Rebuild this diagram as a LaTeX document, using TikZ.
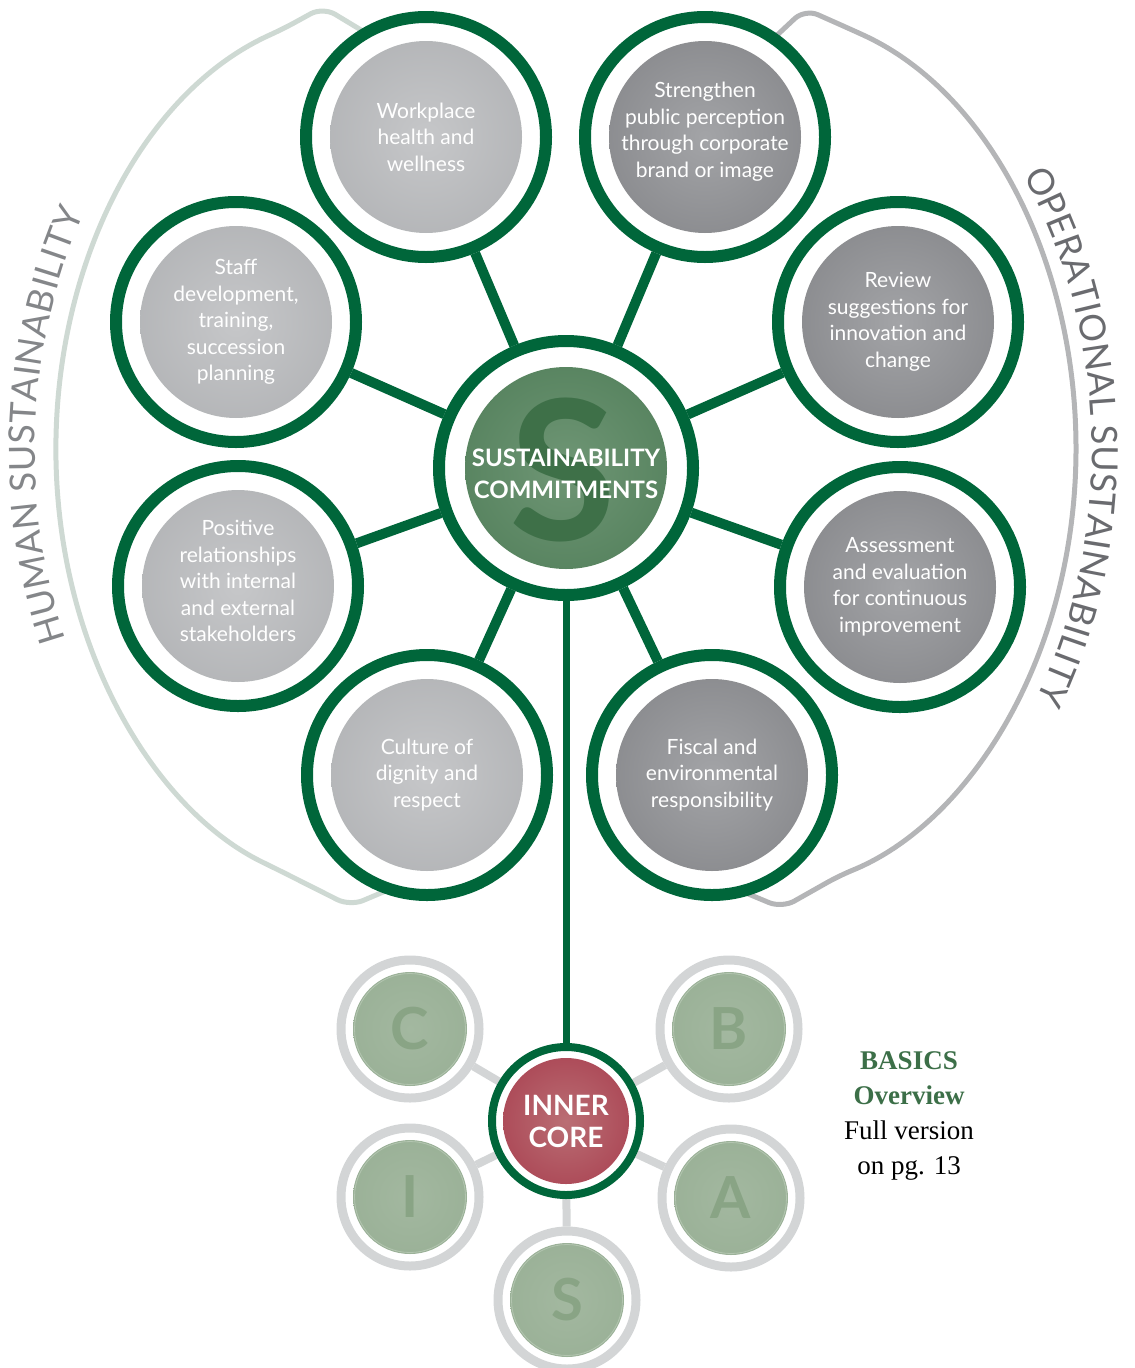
\documentclass[tikz,border=0pt]{standalone}
\usepackage{fontspec}
\setmainfont{Lato}
\newfontfamily\notefont{Liberation Serif}
\usetikzlibrary{decorations.text}

\definecolor{ringgreen}{HTML}{00663A}
\definecolor{humanarc}{HTML}{CED9D3}
\definecolor{operarc}{HTML}{B4B5B7}
\definecolor{humantext}{HTML}{848689}
\definecolor{opertext}{HTML}{6A6B6F}
\definecolor{lightin}{HTML}{C6C7C9}
\definecolor{lightout}{HTML}{9C9EA1}
\definecolor{darkin}{HTML}{A3A4A7}
\definecolor{darkout}{HTML}{6B6C70}
\definecolor{hubin}{HTML}{6F9675}
\definecolor{hubout}{HTML}{386B43}
\definecolor{hubS}{HTML}{3E7048}
\definecolor{corein}{HTML}{BA6E74}
\definecolor{coreout}{HTML}{9C1F36}
\definecolor{sagein}{HTML}{A3B8A0}
\definecolor{sageout}{HTML}{8FA88C}
\definecolor{sageletter}{HTML}{89A485}
\definecolor{sagerim}{HTML}{B3C5B0}
\definecolor{basicsgrey}{HTML}{D3D5D6}
\definecolor{notegreen}{HTML}{3C6F48}

\pgfdeclareradialshading{lightball}{\pgfpoint{0bp}{0bp}}{color(0bp)=(lightin); color(50bp)=(lightout)}
\pgfdeclareradialshading{darkball}{\pgfpoint{0bp}{0bp}}{color(0bp)=(darkin); color(50bp)=(darkout)}
\pgfdeclareradialshading{hubball}{\pgfpoint{0bp}{0bp}}{color(0bp)=(hubin); color(50bp)=(hubout)}
\pgfdeclareradialshading{redball}{\pgfpoint{0bp}{0bp}}{color(0bp)=(corein); color(50bp)=(coreout)}
\pgfdeclareradialshading{sageball}{\pgfpoint{0bp}{0bp}}{color(0bp)=(sagein); color(50bp)=(sageout)}

\pgfdeclarelayer{background}
\pgfsetlayers{background,main}

\newcommand\arcfont{\fontsize{36}{36}\selectfont}

\tikzset{
  sat/.style={circle, draw=ringgreen, line width=12pt, minimum size=240pt, inner sep=0pt,
    align=center, text=white, font=\fontsize{21}{26.5}\selectfont,
    path picture={\shade[shading=#1] (path picture bounding box.center) circle (96pt);}},
  hub/.style={circle, draw=ringgreen, line width=12pt, minimum size=254pt, inner sep=0pt,
    path picture={\shade[shading=hubball] (path picture bounding box.center) circle (101pt);}},
  bigS/.style={text=hubS, font=\fontsize{195}{195}\selectfont\bfseries},
  hubtext/.style={align=center, text=white, font=\fontsize{24}{32}\selectfont\bfseries},
  coreball/.style={circle, draw=ringgreen, line width=8pt, minimum size=148pt, inner sep=0pt,
    align=center, text=white, font=\fontsize{28}{32}\selectfont\bfseries,
    path picture={\shade[shading=redball] (path picture bounding box.center) circle (63pt);}},
  letterball/.style={circle, draw=basicsgrey, line width=9pt, minimum size=138pt, inner sep=0pt,
    text=sageletter, font=\fontsize{58}{58}\selectfont\bfseries,
    path picture={\shade[shading=sageball] (path picture bounding box.center) circle (57pt);
      \draw[sagerim, line width=0.8pt] (path picture bounding box.center) circle (55.5pt);}},
  note/.style={align=center, font=\notefont\fontsize{27}{35}\selectfont},
  spoke/.style={draw=ringgreen, line width=10pt},
  stem/.style={draw=ringgreen, line width=7pt},
  basicslink/.style={draw=basicsgrey, line width=8pt},
  humanline/.style={draw=humanarc, line width=5pt, rounded corners=14pt},
  operline/.style={draw=operarc, line width=5pt, rounded corners=14pt},
}

\begin{document}
\begin{tikzpicture}[x=1pt, y=-1pt]
  \useasboundingbox (0,0) rectangle (1135,1368);

  % commitments around the hub
  \node[sat=lightball] (wp) at (426,137) {Workplace\\health and\\wellness};
  \node[sat=darkball] (sp) at (705,137) {Strengthen\\public perception\\through corporate\\brand or image\\[-12.5pt]};
  \node[sat=lightball] (sd) at (236,322) {Staff\\development,\\training,\\succession\\planning};
  \node[sat=darkball] (rv) at (898,322) {Review\\suggestions for\\innovation and\\change};
  \node[sat=lightball] (pr) at (238,586) {Positive\\relationships\\with internal\\and external\\stakeholders\\[-16.5pt]};
  \node[sat=darkball] (ae) at (900,587) {Assessment\\and evaluation\\for continuous\\improvement};
  \node[sat=lightball] (cd) at (427,775) {Culture of\\dignity and\\respect};
  \node[sat=darkball] (fe) at (712,775) {Fiscal and\\environmental\\responsibility};

  % hub
  \node[hub] (hub) at (566,468) {};
  \node[bigS] (hubs) at (563,470) {S};
  \node[hubtext] (hubt) at (566,474) {SUSTAINABILITY\\COMMITMENTS};

  % inner core and the BASICS
  \node[coreball] (core) at (566,1121) {INNER\\CORE};
  \node[letterball] (lc) at (410,1029) {C};
  \node[letterball] (lb) at (729,1029) {B};
  \node[letterball] (li) at (410,1197) {I};
  \node[letterball] (la) at (731,1198) {A};
  \node[letterball] (ls) at (567,1300) {S};
  \node[note] (note) at (909,1116) {\textbf{\color{notegreen}BASICS}\\\textbf{\color{notegreen}Overview}\\Full version\\on pg. 13};

  % side labels
  \path[decorate, decoration={text along path, text={|\arcfont|HUMAN SUSTAINABILITY},
    text color=humantext, text align={fit to path}}]
    (65.7,639.5) arc[start angle=204, end angle=149.4, x radius=355pt, y radius=466pt];
  \path[decorate, decoration={text along path, text={|\arcfont|OPERATIONAL SUSTAINABILITY},
    text color=opertext, text align={fit to path}}]
    (1023,175.2) arc[start angle=36.6, end angle=-32.8, x radius=350pt, y radius=461pt];

  \begin{pgfonlayer}{background}
    % side brackets
    \draw[humanline] (366,33) -- (323,7) -- (283,29)
      arc[start angle=108.7, end angle=250, x radius=334pt, y radius=445pt] -- (350,906) -- (388,890);
    \draw[operline] (774,38) -- (805,9) -- (850,29)
      arc[start angle=71.1, end angle=-73, x radius=334pt, y radius=445pt] -- (782,908) -- (746,893);
    % spokes
    \draw[spoke] (hub) -- (wp);
    \draw[spoke] (hub) -- (sp);
    \draw[spoke] (hub) -- (sd);
    \draw[spoke] (hub) -- (rv);
    \draw[spoke] (hub) -- (pr);
    \draw[spoke] (hub) -- (ae);
    \draw[spoke] (hub) -- (cd);
    \draw[spoke] (hub) -- (fe);
    \draw[stem] (hub) -- (core);
    % basics links
    \draw[basicslink] (core) -- (lc);
    \draw[basicslink] (core) -- (lb);
    \draw[basicslink] (core) -- (li);
    \draw[basicslink] (core) -- (la);
    \draw[basicslink] (core) -- (ls);
  \end{pgfonlayer}
\end{tikzpicture}
\end{document}
